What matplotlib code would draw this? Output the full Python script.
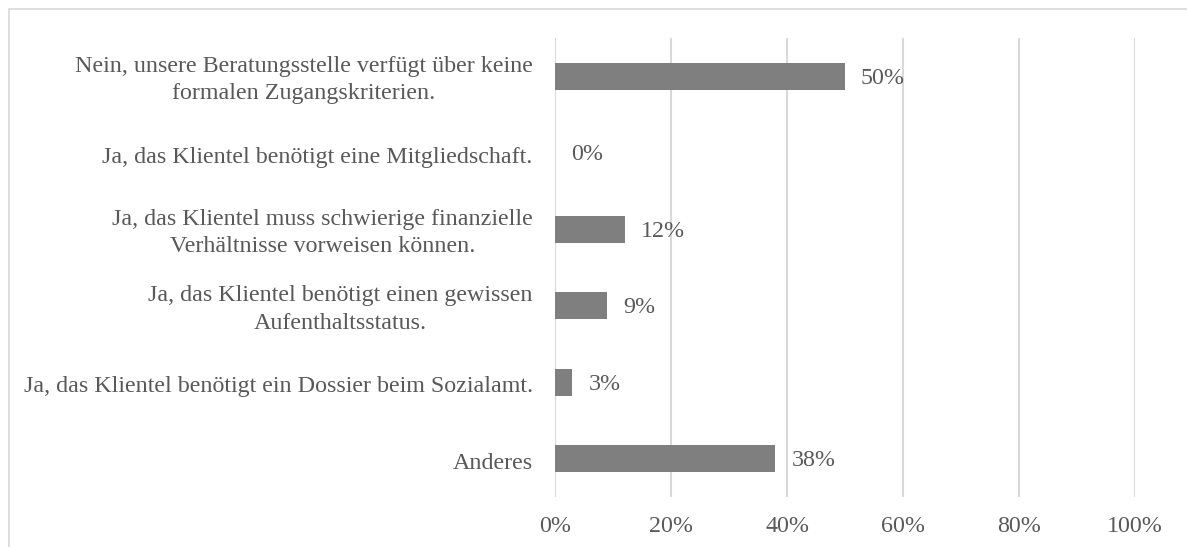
import matplotlib
matplotlib.use("Agg")
import matplotlib.pyplot as plt
import matplotlib.transforms as mtransforms
from matplotlib.patches import Rectangle
from matplotlib.ticker import FuncFormatter

# --- Data ---
categories = [
    "Nein, unsere Beratungsstelle verfügt über keine\nformalen Zugangskriterien.",
    "Ja, das Klientel benötigt eine Mitgliedschaft.",
    "Ja, das Klientel muss schwierige finanzielle\nVerhältnisse vorweisen können.",
    "Ja, das Klientel benötigt einen gewissen\nAufenthaltsstatus.",
    "Ja, das Klientel benötigt ein Dossier beim Sozialamt.",
    "Anderes",
]
values = [0.50, 0.0, 0.12, 0.09, 0.03, 0.38]
xticks = [0, 0.2, 0.4, 0.6, 0.8, 1.0]
# -------------

plt.rcParams['font.family'] = ['Liberation Serif', 'DejaVu Serif']
TEXT = '#595959'
BAR = '#7f7f7f'
GRID = '#d9d9d9'
FS = 17.3

W, H = 1187, 547
fig = plt.figure(figsize=(W / 100, H / 100), dpi=100)
ax = fig.add_axes([555 / W, 1 - 497 / H, 580 / W, 459 / H])

# light frame around the chart area (open at right/bottom like the crop)
fig.patches.append(Rectangle((8.5 / W, -0.1), 1.2, 1 - 9 / H + 0.1,
                             transform=fig.transFigure, fill=False,
                             edgecolor=GRID, linewidth=1.2))

y = list(range(len(categories)))
ax.barh(y, values, height=0.35, color=BAR, zorder=3)
for yi, v in zip(y, values):
    ax.annotate(f"{v:.0%}", (v, yi), xytext=(16, -2), textcoords='offset pixels',
                va='center', ha='left', fontsize=FS, color=TEXT)

ax.set_xlim(0, 1)
ax.set_ylim(len(categories) - 0.5, -0.5)
ax.set_xticks(xticks)
ax.xaxis.set_major_formatter(FuncFormatter(lambda x, _: f"{x:.0%}"))
ax.set_yticks(y)
ax.set_yticklabels(categories)
ax.tick_params(axis='both', length=0, labelsize=FS, labelcolor=TEXT)
ax.tick_params(axis='y', pad=16)
ax.tick_params(axis='x', pad=14)

# wrapped labels: centred lines, slightly looser spacing
for lab in ax.get_yticklabels():
    lab.set_horizontalalignment('right')
    lab.set_multialignment('center')
    lab.set_linespacing(1.4)
    dy = 2 if "\n" in lab.get_text() else -2
    shift = mtransforms.ScaledTranslation(0, dy / 100, fig.dpi_scale_trans)
    lab.set_transform(lab.get_transform() + shift)

ax.grid(axis='x', color=GRID, linewidth=1.5, zorder=0)
ax.grid(axis='y', visible=False)
for s in ax.spines.values():
    s.set_visible(False)

fig.savefig("out.png", dpi=100)
